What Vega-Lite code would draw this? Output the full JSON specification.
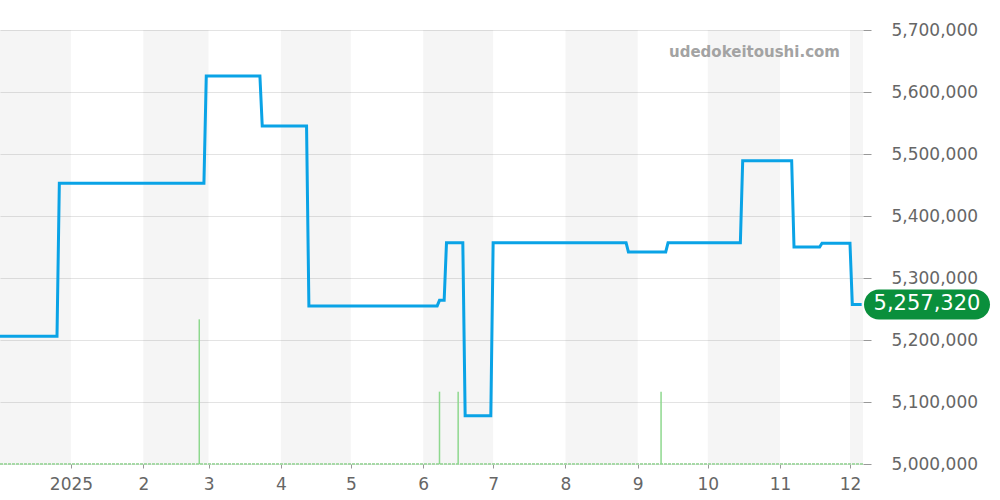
{
  "$schema": "https://vega.github.io/schema/vega-lite/v6.json",
  "width": 863,
  "height": 434,
  "autosize": {"type": "none"},
  "padding": {"left": 0, "top": 30, "right": 137, "bottom": 36},
  "background": "white",
  "view": {"stroke": null},
  "config": {"font": "DejaVu Sans"},
  "datasets": {
    "bands": [
      {"s": "2024-11-30", "e": "2025-01-01"},
      {"s": "2025-02-01", "e": "2025-03-01"},
      {"s": "2025-04-01", "e": "2025-05-01"},
      {"s": "2025-06-01", "e": "2025-07-01"},
      {"s": "2025-08-01", "e": "2025-09-01"},
      {"s": "2025-10-01", "e": "2025-11-01"},
      {"s": "2025-12-01", "e": "2025-12-07"}
    ],
    "price": [
      {"d": "2024-12-01", "p": 5206000},
      {"d": "2024-12-26", "p": 5206000},
      {"d": "2024-12-27", "p": 5453000},
      {"d": "2025-02-27", "p": 5453000},
      {"d": "2025-02-28", "p": 5626000},
      {"d": "2025-03-23", "p": 5626000},
      {"d": "2025-03-24", "p": 5545000},
      {"d": "2025-04-12", "p": 5545000},
      {"d": "2025-04-13", "p": 5255000},
      {"d": "2025-06-07", "p": 5255000},
      {"d": "2025-06-08", "p": 5264000},
      {"d": "2025-06-10", "p": 5264000},
      {"d": "2025-06-11", "p": 5357000},
      {"d": "2025-06-18", "p": 5357000},
      {"d": "2025-06-19", "p": 5078000},
      {"d": "2025-06-30", "p": 5078000},
      {"d": "2025-07-01", "p": 5357000},
      {"d": "2025-08-27", "p": 5357000},
      {"d": "2025-08-28", "p": 5342000},
      {"d": "2025-09-13", "p": 5342000},
      {"d": "2025-09-14", "p": 5357000},
      {"d": "2025-10-15", "p": 5357000},
      {"d": "2025-10-16", "p": 5489000},
      {"d": "2025-11-06", "p": 5489000},
      {"d": "2025-11-07", "p": 5350000},
      {"d": "2025-11-18", "p": 5350000},
      {"d": "2025-11-19", "p": 5356000},
      {"d": "2025-12-01", "p": 5356000},
      {"d": "2025-12-02", "p": 5257320},
      {"d": "2025-12-06", "p": 5257320}
    ],
    "vol": [
      {"d": "2025-02-25", "v": 2},
      {"d": "2025-06-08", "v": 1},
      {"d": "2025-06-16", "v": 1},
      {"d": "2025-09-11", "v": 1}
    ]
  },
  "layer": [
    {
      "data": {"name": "bands"},
      "mark": {"type": "rect", "fill": "#000000", "opacity": 0.04, "clip": true},
      "encoding": {
        "x": {
          "field": "s", "type": "temporal", "title": null,
          "scale": {"type": "utc", "domain": [{"year": 2024, "month": 12, "date": 1, "hours": 13, "minutes": 25, "utc": true}, {"year": 2025, "month": 12, "date": 6, "hours": 14, "utc": true}]},
          "axis": {
            "tickCount": {"interval": "month", "step": 1},
            "labelExpr": "utcmonth(datum.value) == 0 ? utcFormat(datum.value, '%Y') : utcFormat(datum.value, '%-m')",
            "grid": false, "domain": false,
            "tickSize": 4, "tickColor": "#999999",
            "labelFontSize": 17, "labelColor": "#666666", "labelFont": "DejaVu Sans",
            "labelPadding": 8, "labelFlush": false, "labelOverlap": false
          }
        },
        "x2": {"field": "e"}
      }
    },
    {
      "layer": [
        {
          "data": {"name": "price"},
          "mark": {"type": "line", "color": "#0aa3e6", "strokeWidth": 3},
          "encoding": {
            "x": {"field": "d", "type": "temporal", "title": null, "scale": {"type": "utc", "domain": [{"year": 2024, "month": 12, "date": 1, "hours": 13, "minutes": 25, "utc": true}, {"year": 2025, "month": 12, "date": 6, "hours": 14, "utc": true}]}},
            "y": {
              "field": "p", "type": "quantitative", "title": null,
              "scale": {"domain": [5000000, 5700000], "nice": false, "zero": false},
              "axis": {
                "orient": "right",
                "values": [5000000, 5100000, 5200000, 5300000, 5400000, 5500000, 5600000, 5700000],
                "format": ",d",
                "grid": true, "gridColor": "#e3e3e3",
                "domain": false,
                "tickSize": 8, "tickColor": "#999999",
                "labelFontSize": 17, "labelColor": "#666666", "labelFont": "DejaVu Sans",
                "labelPadding": 20, "labelFlush": false
              }
            }
          }
        },
        {
          "data": {"values": [{}]},
          "mark": {"type": "text", "text": "udedokeitoushi.com", "align": "right", "baseline": "middle", "fontSize": 15, "fontWeight": "bold", "color": "#a3a3a3"},
          "encoding": {
            "x": {"datum": {"year": 2025, "month": 11, "date": 26, "hours": 17, "utc": true}, "type": "temporal", "title": null},
            "y": {"datum": 5664500, "type": "quantitative", "title": null}
          }
        },
        {
          "data": {"values": [{}]},
          "mark": {"type": "point", "shape": "M -0.762 -0.238 L 0.762 -0.238 A 0.238 0.238 0 0 1 0.762 0.238 L -0.762 0.238 A 0.238 0.238 0 0 1 -0.762 -0.238 Z", "size": 15876, "filled": true, "color": "#0a8f3c", "opacity": 1, "xOffset": 64},
          "encoding": {
            "x": {"datum": {"year": 2025, "month": 12, "date": 6, "hours": 14, "utc": true}, "type": "temporal", "title": null},
            "y": {"datum": 5257320, "type": "quantitative", "title": null}
          }
        },
        {
          "data": {"values": [{}]},
          "mark": {"type": "text", "text": "5,257,320", "align": "center", "baseline": "middle", "fontSize": 21, "color": "#ffffff", "dx": 64},
          "encoding": {
            "x": {"datum": {"year": 2025, "month": 12, "date": 6, "hours": 14, "utc": true}, "type": "temporal", "title": null},
            "y": {"datum": 5257320, "type": "quantitative", "title": null}
          }
        }
      ]
    },
    {
      "data": {"name": "vol"},
      "layer": [
        {
          "mark": {"type": "rule", "color": "#a6d9a6", "strokeWidth": 1.5, "strokeDash": [3, 1]},
          "encoding": {
            "y": {"datum": 0, "type": "quantitative", "scale": {"domain": [0, 6]}, "axis": null}
          }
        },
        {
          "mark": {"type": "rule", "color": "#8ed88e", "strokeWidth": 1.5},
          "encoding": {
            "x": {"field": "d", "type": "temporal", "title": null, "scale": {"type": "utc", "domain": [{"year": 2024, "month": 12, "date": 1, "hours": 13, "minutes": 25, "utc": true}, {"year": 2025, "month": 12, "date": 6, "hours": 14, "utc": true}]}},
            "y": {"field": "v", "type": "quantitative", "scale": {"domain": [0, 6]}, "axis": null},
            "y2": {"datum": 0}
          }
        }
      ]
    }
  ],
  "resolve": {"scale": {"y": "independent"}}
}
